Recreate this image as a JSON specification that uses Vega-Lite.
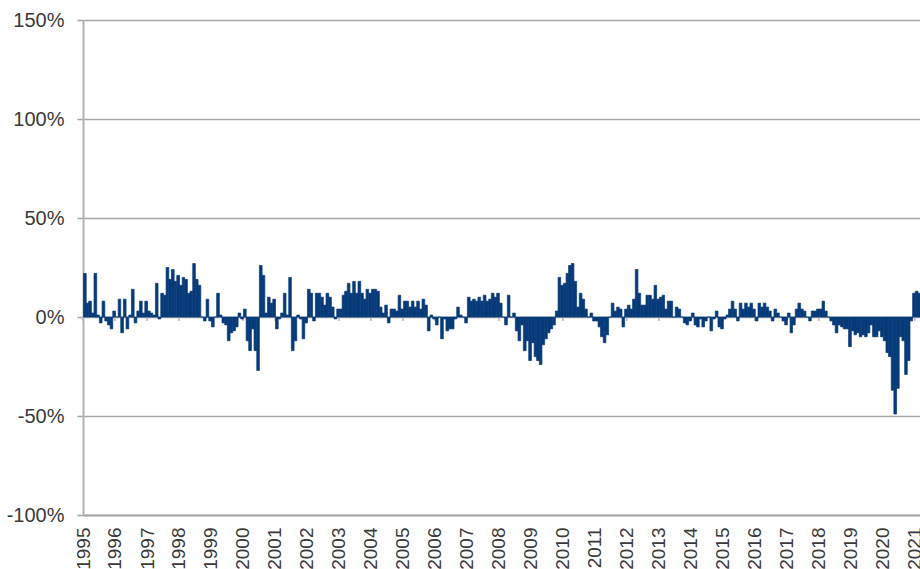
{
"$schema": "https://vega.github.io/schema/vega-lite/v6.json",
"width": 837, "height": 495,
"autosize": {"type": "none"},
"padding": {"left": 83, "top": 20, "right": 0, "bottom": 54},
"background": "white",
"config": {"view": {"stroke": null}, "bar": {"binSpacing": 0}},
"datasets": {
"years": [{"d":"1995-01"},{"d":"1996-01"},{"d":"1997-01"},{"d":"1998-01"},{"d":"1999-01"},{"d":"2000-01"},{"d":"2001-01"},{"d":"2002-01"},{"d":"2003-01"},{"d":"2004-01"},{"d":"2005-01"},{"d":"2006-01"},{"d":"2007-01"},{"d":"2008-01"},{"d":"2009-01"},{"d":"2010-01"},{"d":"2011-01"},{"d":"2012-01"},{"d":"2013-01"},{"d":"2014-01"},{"d":"2015-01"},{"d":"2016-01"},{"d":"2017-01"},{"d":"2018-01"},{"d":"2019-01"},{"d":"2020-01"},{"d":"2021-01"}],
"bars": [
{"d":"1995-01","v":22},{"d":"1995-02","v":7},{"d":"1995-03","v":8},{"d":"1995-04","v":2},{"d":"1995-05","v":22},{"d":"1995-06","v":1},{"d":"1995-07","v":-3},{"d":"1995-08","v":8},{"d":"1995-09","v":-2},{"d":"1995-10","v":-4},{"d":"1995-11","v":-6},{"d":"1995-12","v":3},
{"d":"1996-01","v":0},{"d":"1996-02","v":9},{"d":"1996-03","v":-8},{"d":"1996-04","v":9},{"d":"1996-05","v":-6},{"d":"1996-06","v":1},{"d":"1996-07","v":14},{"d":"1996-08","v":-3},{"d":"1996-09","v":3},{"d":"1996-10","v":8},{"d":"1996-11","v":2},{"d":"1996-12","v":8},
{"d":"1997-01","v":3},{"d":"1997-02","v":2},{"d":"1997-03","v":1},{"d":"1997-04","v":17},{"d":"1997-05","v":-1},{"d":"1997-06","v":12},{"d":"1997-07","v":11},{"d":"1997-08","v":25},{"d":"1997-09","v":19},{"d":"1997-10","v":24},{"d":"1997-11","v":18},{"d":"1997-12","v":21},
{"d":"1998-01","v":16},{"d":"1998-02","v":20},{"d":"1998-03","v":19},{"d":"1998-04","v":12},{"d":"1998-05","v":13},{"d":"1998-06","v":27},{"d":"1998-07","v":19},{"d":"1998-08","v":16},{"d":"1998-09","v":0},{"d":"1998-10","v":-2},{"d":"1998-11","v":9},{"d":"1998-12","v":-2},
{"d":"1999-01","v":-5},{"d":"1999-02","v":0},{"d":"1999-03","v":12},{"d":"1999-04","v":1},{"d":"1999-05","v":-3},{"d":"1999-06","v":-4},{"d":"1999-07","v":-12},{"d":"1999-08","v":-8},{"d":"1999-09","v":-7},{"d":"1999-10","v":-5},{"d":"1999-11","v":2},{"d":"1999-12","v":-1},
{"d":"2000-01","v":4},{"d":"2000-02","v":-12},{"d":"2000-03","v":-17},{"d":"2000-04","v":-6},{"d":"2000-05","v":-17},{"d":"2000-06","v":-27},{"d":"2000-07","v":26},{"d":"2000-08","v":21},{"d":"2000-09","v":2},{"d":"2000-10","v":10},{"d":"2000-11","v":7},{"d":"2000-12","v":9},
{"d":"2001-01","v":-6},{"d":"2001-02","v":-1},{"d":"2001-03","v":2},{"d":"2001-04","v":12},{"d":"2001-05","v":1},{"d":"2001-06","v":20},{"d":"2001-07","v":-17},{"d":"2001-08","v":-12},{"d":"2001-09","v":1},{"d":"2001-10","v":-1},{"d":"2001-11","v":-11},{"d":"2001-12","v":-3},
{"d":"2002-01","v":14},{"d":"2002-02","v":12},{"d":"2002-03","v":-2},{"d":"2002-04","v":12},{"d":"2002-05","v":12},{"d":"2002-06","v":10},{"d":"2002-07","v":6},{"d":"2002-08","v":12},{"d":"2002-09","v":10},{"d":"2002-10","v":5},{"d":"2002-11","v":-1},{"d":"2002-12","v":4},
{"d":"2003-01","v":4},{"d":"2003-02","v":11},{"d":"2003-03","v":13},{"d":"2003-04","v":17},{"d":"2003-05","v":12},{"d":"2003-06","v":18},{"d":"2003-07","v":12},{"d":"2003-08","v":18},{"d":"2003-09","v":12},{"d":"2003-10","v":9},{"d":"2003-11","v":14},{"d":"2003-12","v":12},
{"d":"2004-01","v":14},{"d":"2004-02","v":14},{"d":"2004-03","v":13},{"d":"2004-04","v":5},{"d":"2004-05","v":2},{"d":"2004-06","v":6},{"d":"2004-07","v":-3},{"d":"2004-08","v":4},{"d":"2004-09","v":4},{"d":"2004-10","v":3},{"d":"2004-11","v":11},{"d":"2004-12","v":4},
{"d":"2005-01","v":8},{"d":"2005-02","v":8},{"d":"2005-03","v":5},{"d":"2005-04","v":8},{"d":"2005-05","v":5},{"d":"2005-06","v":8},{"d":"2005-07","v":4},{"d":"2005-08","v":9},{"d":"2005-09","v":6},{"d":"2005-10","v":-7},{"d":"2005-11","v":1},{"d":"2005-12","v":-1},
{"d":"2006-01","v":-4},{"d":"2006-02","v":0},{"d":"2006-03","v":-11},{"d":"2006-04","v":-1},{"d":"2006-05","v":-7},{"d":"2006-06","v":-6},{"d":"2006-07","v":-6},{"d":"2006-08","v":-1},{"d":"2006-09","v":5},{"d":"2006-10","v":1},{"d":"2006-11","v":0},{"d":"2006-12","v":-3},
{"d":"2007-01","v":10},{"d":"2007-02","v":8},{"d":"2007-03","v":9},{"d":"2007-04","v":8},{"d":"2007-05","v":10},{"d":"2007-06","v":8},{"d":"2007-07","v":11},{"d":"2007-08","v":8},{"d":"2007-09","v":9},{"d":"2007-10","v":12},{"d":"2007-11","v":10},{"d":"2007-12","v":12},
{"d":"2008-01","v":7},{"d":"2008-02","v":0},{"d":"2008-03","v":-4},{"d":"2008-04","v":11},{"d":"2008-05","v":0},{"d":"2008-06","v":2},{"d":"2008-07","v":-7},{"d":"2008-08","v":-12},{"d":"2008-09","v":-4},{"d":"2008-10","v":-17},{"d":"2008-11","v":-12},{"d":"2008-12","v":-22},
{"d":"2009-01","v":-13},{"d":"2009-02","v":-20},{"d":"2009-03","v":-22},{"d":"2009-04","v":-24},{"d":"2009-05","v":-14},{"d":"2009-06","v":-11},{"d":"2009-07","v":-8},{"d":"2009-08","v":-6},{"d":"2009-09","v":-4},{"d":"2009-10","v":3},{"d":"2009-11","v":20},{"d":"2009-12","v":16},
{"d":"2010-01","v":17},{"d":"2010-02","v":22},{"d":"2010-03","v":26},{"d":"2010-04","v":27},{"d":"2010-05","v":18},{"d":"2010-06","v":5},{"d":"2010-07","v":12},{"d":"2010-08","v":9},{"d":"2010-09","v":4},{"d":"2010-10","v":0},{"d":"2010-11","v":2},{"d":"2010-12","v":-2},
{"d":"2011-01","v":-2},{"d":"2011-02","v":-5},{"d":"2011-03","v":-10},{"d":"2011-04","v":-13},{"d":"2011-05","v":-9},{"d":"2011-06","v":0},{"d":"2011-07","v":7},{"d":"2011-08","v":3},{"d":"2011-09","v":5},{"d":"2011-10","v":4},{"d":"2011-11","v":-5},{"d":"2011-12","v":4},
{"d":"2012-01","v":6},{"d":"2012-02","v":4},{"d":"2012-03","v":9},{"d":"2012-04","v":24},{"d":"2012-05","v":12},{"d":"2012-06","v":6},{"d":"2012-07","v":6},{"d":"2012-08","v":11},{"d":"2012-09","v":11},{"d":"2012-10","v":9},{"d":"2012-11","v":16},{"d":"2012-12","v":9},
{"d":"2013-01","v":10},{"d":"2013-02","v":11},{"d":"2013-03","v":4},{"d":"2013-04","v":8},{"d":"2013-05","v":8},{"d":"2013-06","v":0},{"d":"2013-07","v":5},{"d":"2013-08","v":4},{"d":"2013-09","v":0},{"d":"2013-10","v":-3},{"d":"2013-11","v":-4},{"d":"2013-12","v":-2},
{"d":"2014-01","v":2},{"d":"2014-02","v":-4},{"d":"2014-03","v":-5},{"d":"2014-04","v":-1},{"d":"2014-05","v":-5},{"d":"2014-06","v":-2},{"d":"2014-07","v":0},{"d":"2014-08","v":-7},{"d":"2014-09","v":-1},{"d":"2014-10","v":3},{"d":"2014-11","v":-5},{"d":"2014-12","v":-6},
{"d":"2015-01","v":-1},{"d":"2015-02","v":1},{"d":"2015-03","v":4},{"d":"2015-04","v":8},{"d":"2015-05","v":4},{"d":"2015-06","v":-2},{"d":"2015-07","v":7},{"d":"2015-08","v":4},{"d":"2015-09","v":7},{"d":"2015-10","v":5},{"d":"2015-11","v":7},{"d":"2015-12","v":4},
{"d":"2016-01","v":-2},{"d":"2016-02","v":7},{"d":"2016-03","v":5},{"d":"2016-04","v":7},{"d":"2016-05","v":5},{"d":"2016-06","v":3},{"d":"2016-07","v":-2},{"d":"2016-08","v":4},{"d":"2016-09","v":2},{"d":"2016-10","v":0},{"d":"2016-11","v":-2},{"d":"2016-12","v":-4},
{"d":"2017-01","v":2},{"d":"2017-02","v":-8},{"d":"2017-03","v":-4},{"d":"2017-04","v":4},{"d":"2017-05","v":7},{"d":"2017-06","v":4},{"d":"2017-07","v":3},{"d":"2017-08","v":0},{"d":"2017-09","v":-2},{"d":"2017-10","v":3},{"d":"2017-11","v":3},{"d":"2017-12","v":4},
{"d":"2018-01","v":4},{"d":"2018-02","v":8},{"d":"2018-03","v":3},{"d":"2018-04","v":0},{"d":"2018-05","v":-2},{"d":"2018-06","v":-4},{"d":"2018-07","v":-8},{"d":"2018-08","v":-4},{"d":"2018-09","v":-5},{"d":"2018-10","v":-6},{"d":"2018-11","v":-6},{"d":"2018-12","v":-15},
{"d":"2019-01","v":-7},{"d":"2019-02","v":-9},{"d":"2019-03","v":-8},{"d":"2019-04","v":-10},{"d":"2019-05","v":-9},{"d":"2019-06","v":-10},{"d":"2019-07","v":-8},{"d":"2019-08","v":-4},{"d":"2019-09","v":-10},{"d":"2019-10","v":-10},{"d":"2019-11","v":-7},{"d":"2019-12","v":-10},
{"d":"2020-01","v":-12},{"d":"2020-02","v":-18},{"d":"2020-03","v":-20},{"d":"2020-04","v":-37},{"d":"2020-05","v":-49},{"d":"2020-06","v":-36},{"d":"2020-07","v":-10},{"d":"2020-08","v":-12},{"d":"2020-09","v":-29},{"d":"2020-10","v":-22},{"d":"2020-11","v":-2},{"d":"2020-12","v":12},
{"d":"2021-01","v":13},{"d":"2021-02","v":12}
]
},
"layer": [
{
"data": {"name": "years"},
"mark": {"type": "rule", "color": "#b5b5b5", "strokeWidth": 1.5},
"encoding": {
"x": {"field": "d", "type": "temporal"},
"y": {"datum": 0, "type": "quantitative"},
"y2": {"datum": -2}
}
},
{
"data": {"name": "bars"},
"mark": {"type": "bar", "color": "#073a78", "binSpacing": 0, "stroke": "#073a78", "strokeWidth": 0.7},
"encoding": {
"x": {"field": "d", "type": "temporal", "timeUnit": "utcyearmonth",
"scale": {"type": "utc", "domain": [{"year": 1995, "month": 1, "date": 1, "utc": true}, {"year": 2021, "month": 3, "date": 1, "utc": true}]},
"axis": {"title": null, "format": "%Y", "tickCount": {"interval": "year", "step": 1}, "labelAngle": 270, "labelAlign": "right", "labelBaseline": "middle", "labelPadding": 12, "ticks": false, "grid": false, "domainColor": "#a6a6a6", "domainWidth": 2, "labelFont": "Liberation Sans", "labelFontSize": 19, "labelColor": "#3a3a3a", "labelFlush": false, "labelOverlap": false, "labelBound": false}},
"y": {"field": "v", "type": "quantitative",
"scale": {"domain": [-100, 150], "nice": false},
"axis": {"title": null, "values": [-100, -50, 0, 50, 100, 150], "labelExpr": "datum.value + '%'", "grid": true, "gridColor": "#a6a6a6", "gridWidth": 1.6, "domainColor": "#b3b3b3", "domainWidth": 2, "tickColor": "#a6a6a6", "tickSize": 6, "tickWidth": 1.6, "labelFont": "Liberation Sans", "labelFontSize": 20, "labelColor": "#3a3a3a", "labelPadding": 13}}
}
}
]
}
